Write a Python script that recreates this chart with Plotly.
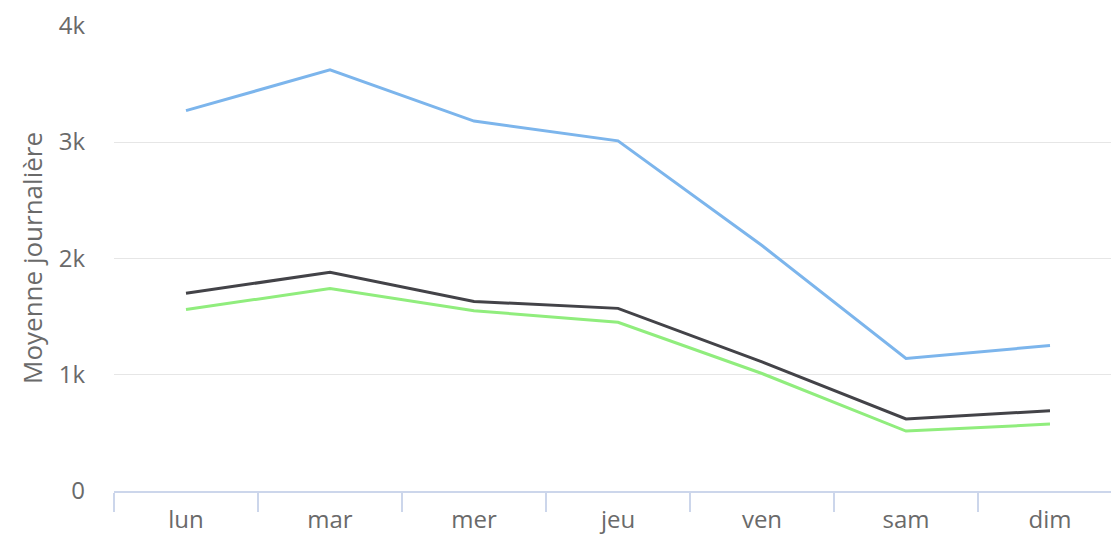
import plotly.graph_objects as go

days = ["lun", "mar", "mer", "jeu", "ven", "sam", "dim"]
blue_vals = [3270, 3620, 3180, 3010, 2110, 1140, 1250]
dark_vals = [1700, 1880, 1630, 1570, 1110, 620, 690]
green_vals = [1560, 1740, 1550, 1450, 1010, 515, 575]
y_ticks = [0, 1000, 2000, 3000, 4000]
y_tick_text = ["0", "1k", "2k", "3k", "4k"]

series = [
    ("Série 1", blue_vals, "#7cb5ec"),
    ("Série 2", dark_vals, "#434348"),
    ("Série 3", green_vals, "#90ed7d"),
]

fig = go.Figure()
for name, vals, color in series:
    fig.add_trace(go.Scatter(x=days, y=vals, mode="lines", name=name,
                             line=dict(color=color, width=3)))

font_family = "'Open Sans', Lato, sans-serif"
fig.update_layout(
    width=1119, height=534,
    margin=dict(l=106, r=5, t=17, b=51, autoexpand=False),
    plot_bgcolor="white", paper_bgcolor="white",
    showlegend=False,
    font=dict(family=font_family, color="#6a6a6a", size=24),
)
fig.update_xaxes(
    type="category", range=[-0.5, 6.5],
    showline=True, linecolor="#ccd6eb", linewidth=1.5,
    ticks="outside", tickson="boundaries", tickcolor="#ccd6eb", ticklen=19, tickwidth=1.5,
    showgrid=False, tickfont=dict(size=24, color="#6a6a6a"), ticklabelstandoff=6,
)
fig.update_yaxes(
    range=[0, 4006], tickvals=y_ticks, ticktext=y_tick_text,
    showgrid=True, gridcolor="#e6e6e6", gridwidth=1.2, zeroline=False,
    tickfont=dict(size=24, color="#6a6a6a"), ticks="", ticklabelstandoff=28,
    title=dict(text="Moyenne journalière", font=dict(size=26, color="#6a6a6a"), standoff=8),
)
fig.write_html("out.html")
